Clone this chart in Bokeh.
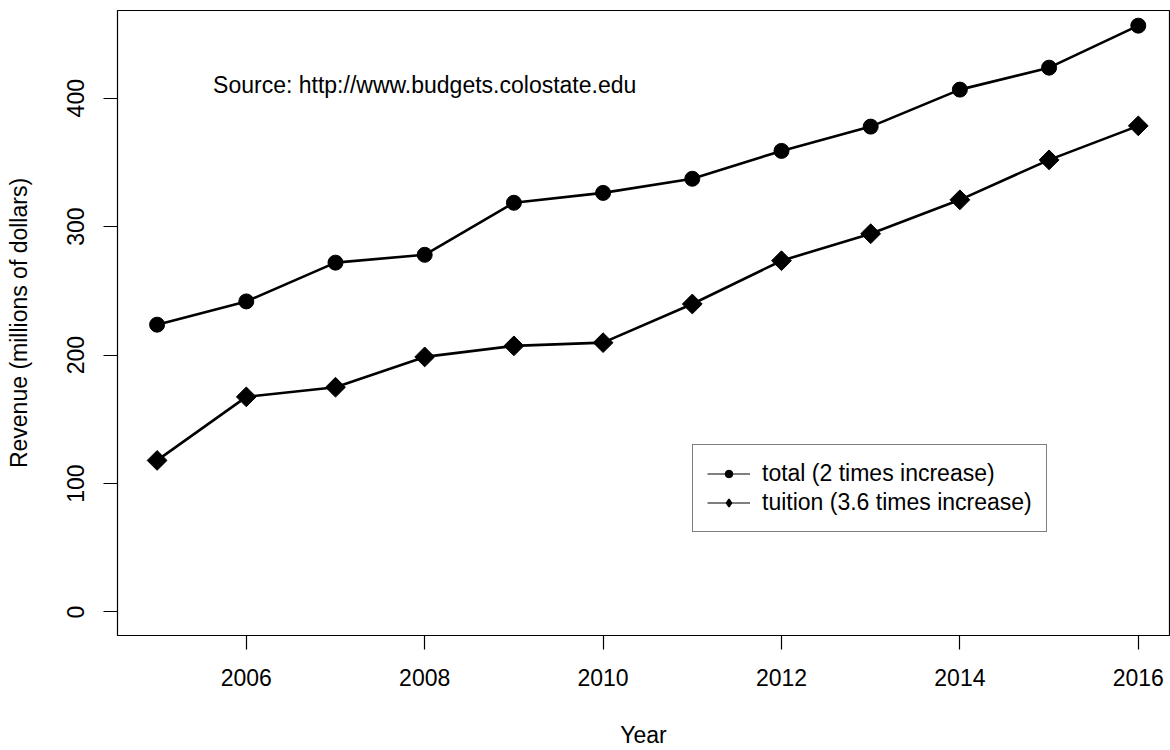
import math
from bokeh.plotting import figure
from bokeh.models import (ColumnDataSource, Range1d, FixedTicker, Legend, LegendItem)
from bokeh.core.properties import value
from bokeh.embed import file_html
from bokeh.resources import INLINE

# Colorado State University revenue, millions of dollars
years = [2005, 2006, 2007, 2008, 2009, 2010, 2011, 2012, 2013, 2014, 2015, 2016]
total = [223.7, 241.8, 272.0, 278.1, 318.6, 326.3, 337.3, 359.0, 377.9, 406.7, 423.8, 456.5]
tuition = [118.0, 167.5, 175.0, 198.6, 207.2, 209.7, 239.8, 273.5, 294.5, 320.9, 352.0, 378.5]

x_ticks = [2006, 2008, 2010, 2012, 2014, 2016]
y_ticks = [0, 100, 200, 300, 400]

labels = ["total (2 times increase)", "tuition (3.6 times increase)"]
source_note = "Source: http://www.budgets.colostate.edu"
note_x, note_y = 2008, 410

FONT = "Liberation Sans"
FS = "23px"

src = ColumnDataSource(dict(year=years, total=total, tuition=tuition))

p = figure(width=1170, height=750, output_backend="svg", toolbar_location=None,
           x_range=Range1d(2004.556, 2016.35), y_range=Range1d(-18.3, 468.3),
           min_border_left=117, min_border_right=1, min_border_top=10,
           min_border_bottom=114)

p.background_fill_color = "white"
p.border_fill_color = "white"
p.grid.visible = False
p.outline_line_color = "black"
p.outline_line_width = 1.2

for ax in (p.xaxis[0], p.yaxis[0]):
    ax.axis_line_color = None
    ax.major_tick_line_color = "black"
    ax.major_tick_line_width = 1.2
    ax.major_tick_out = 14
    ax.major_tick_in = 0
    ax.minor_tick_line_color = None
    ax.major_label_text_font = FONT
    ax.major_label_text_font_size = FS
    ax.major_label_text_color = "black"
    ax.axis_label_text_font = FONT
    ax.axis_label_text_font_size = FS
    ax.axis_label_text_font_style = "normal"
    ax.axis_label_text_color = "black"

p.xaxis.ticker = FixedTicker(ticks=x_ticks)
p.yaxis.ticker = FixedTicker(ticks=y_ticks)
p.xaxis.axis_label = "Year"
p.yaxis.axis_label = "Revenue (millions of dollars)"
p.xaxis.major_label_standoff = 19
p.xaxis.axis_label_standoff = 33
p.yaxis.major_label_orientation = "vertical"
p.yaxis.major_label_standoff = 19
p.yaxis.axis_label_standoff = 33

# series lines and markers
p.line("year", "total", source=src, line_color="black", line_width=2.6)
p.scatter("year", "total", source=src, marker="circle", size=15,
          fill_color="black", line_color="black")
p.line("year", "tuition", source=src, line_color="black", line_width=2.6)
p.scatter("year", "tuition", source=src, marker="square", size=14, angle=math.pi / 4,
          fill_color="black", line_color="black")

# source note
p.text(x=[note_x], y=[note_y], text=[source_note], text_font=value(FONT),
       text_font_size=FS, text_align="center", text_baseline="middle",
       text_color="black")

# legend swatches: thin line through a small marker (placeholder rows, not plotted)
nan = float("nan")
sw = ColumnDataSource(dict(year=[nan], v=[nan]))
l1 = p.line("year", "v", source=sw, line_color="black", line_width=1)
m1 = p.scatter("year", "v", source=sw, marker="circle", fill_color="black",
               line_color="black")
l2 = p.line("year", "v", source=sw, line_color="black", line_width=1)
m2 = p.scatter("year", "v", source=sw, marker="diamond",
               fill_color="black", line_color="black", line_width=1.5)

legend = Legend(items=[LegendItem(label=labels[0], renderers=[l1, m1]),
                       LegendItem(label=labels[1], renderers=[l2, m2])],
                location=(575, 103), orientation="vertical",
                padding=14, spacing=0, margin=0,
                glyph_width=43, glyph_height=19, label_height=29,
                label_standoff=12,
                label_text_font=FONT, label_text_font_size=FS,
                label_text_color="black",
                border_line_color="black", border_line_width=1.2,
                background_fill_color="white", background_fill_alpha=1.0)
p.add_layout(legend, "center")

open("out.html", "w").write(file_html(p, INLINE))
